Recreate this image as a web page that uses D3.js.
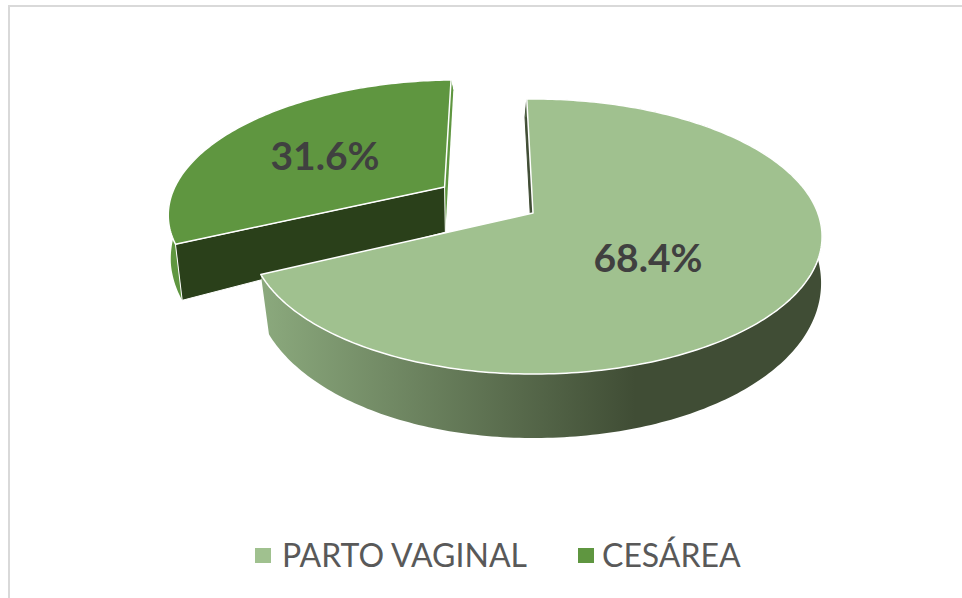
<!DOCTYPE html>
<html>
<head>
<meta charset="utf-8">
<script src="https://d3js.org/d3.v7.min.js"></script>
<style>
html, body { margin: 0; padding: 0; background: #fff; }
svg { display: block; }
</style>
</head>
<body>
<svg id="chart" width="962" height="598"></svg>
<script>
const categories = ["PARTO VAGINAL", "CESÁREA"];
const values = [68.4, 31.6];

const width = 962, height = 598;
const topColors = ["#a0c18f", "#5f9640"];
const explode = [0, 0.385];
const firstAngle = -1.5 * Math.PI / 180;

// perspective of the pie plate: apex is not the ellipse centre
const cx = 533, cy = 213;
const k = 0.171, B = 133.5;
const p = 154.9, q = 50.8, r = 0.086, r2 = 0.12;
// plate is a little narrower on the left of the apex
const topWidth = X => X < 0 ? 279 : 284.8;
const bottomWidth = X => X < 0 ? 277 : 286;

function topPoint(X, Y) {
    const w = 1 - k * Y;
    return [cx + topWidth(X) * X / w, cy + B * Y / w];
}
function bottomPoint(X, Y, lean) {
    return [cx + bottomWidth(X) * X / (1 - r2 * Y) + lean * Math.max(0, -Y), cy + (p * Y + q) / (1 - r * Y)];
}

const svg = d3.select("#chart");
const defs = svg.append("defs");
const grad = defs.append("linearGradient").attr("id", "wallGrad")
    .attr("gradientUnits", "userSpaceOnUse")
    .attr("x1", 262).attr("x2", 635).attr("y1", 0).attr("y2", 0);
grad.append("stop").attr("offset", "0%").attr("stop-color", "#8ba97d");
grad.append("stop").attr("offset", "100%").attr("stop-color", "#404d35");

// chart frame, no right side in the reference
svg.append("path").attr("fill", "none").attr("stroke", "#d9d9d9").attr("stroke-width", 2)
    .attr("d", `M${width},6H9V${height}`);

const pie = d3.pie().sort(null).startAngle(firstAngle).endAngle(firstAngle + 2 * Math.PI);
const slices = pie(values).map((s, i) => {
    const mid = (s.startAngle + s.endAngle) / 2;
    const ox = explode[i] * Math.sin(mid), oy = -explode[i] * Math.cos(mid);
    const angles = d3.range(s.startAngle, s.endAngle, Math.PI / 180).concat([s.endAngle]);
    const rim = angles.map(a => [ox + Math.sin(a), oy - Math.cos(a)]);
    return {i, ox, oy, rim};
});

const line = d3.line();
const plate = svg.append("g");

function sliceShapes(s, lean) {
    const g = plate.append("g");
    const first = s.rim[0], last = s.rim[s.rim.length - 1];
    const apex = [s.ox, s.oy];
    // side cut at the start of the slice
    const startWall = [topPoint(...apex), topPoint(...first), bottomPoint(...first, lean), bottomPoint(...apex, lean)];
    // side cut at the end of the slice
    const endWall = [topPoint(...apex), topPoint(...last), bottomPoint(...last, lean), bottomPoint(...apex, lean)];
    const outer = s.rim.map(d => topPoint(...d)).concat(s.rim.slice().reverse().map(d => bottomPoint(...d, lean)));
    return {g, startWall, endWall, outer, top: [topPoint(...apex)].concat(s.rim.map(d => topPoint(...d)))};
}

// exploded slice sits behind the big one
const ces = sliceShapes(slices[1], 5);
ces.g.append("path").attr("d", line(ces.endWall) + "Z").attr("fill", topColors[1]);
ces.g.append("path").attr("d", line(ces.outer) + "Z").attr("fill", topColors[1]);
ces.g.append("path").attr("d", line(ces.startWall) + "Z").attr("fill", "#2a401a")
    .attr("stroke", "#fff").attr("stroke-width", 1);
ces.g.append("path").attr("d", line(ces.top) + "Z").attr("fill", topColors[1])
    .attr("stroke", "#fff").attr("stroke-width", 1.5).attr("stroke-linejoin", "round");

const big = sliceShapes(slices[0], -1.5);
big.g.append("path").attr("d", line(big.startWall) + "Z").attr("fill", "#404d35")
    .attr("stroke", "#404d35").attr("stroke-width", 1);
big.g.append("path").attr("d", line(big.outer) + "Z").attr("fill", "url(#wallGrad)");
big.g.append("path").attr("d", line(big.top) + "Z").attr("fill", topColors[0])
    .attr("stroke", "#fff").attr("stroke-width", 1.5).attr("stroke-linejoin", "round");

// data labels
const labelPos = [[648, 257], [325, 155]];
svg.selectAll("text.value").data(values).enter().append("text").attr("class", "value")
    .attr("x", (d, i) => labelPos[i][0]).attr("y", (d, i) => labelPos[i][1])
    .attr("text-anchor", "middle").attr("dominant-baseline", "central")
    .attr("font-family", "Lato").attr("font-weight", 700).attr("font-size", 39)
    .attr("fill", "#404040")
    .text(d => d3.format(".1f")(d) + "%");

// legend
const legendX = [255, 578];
const legendText = [27, 24];
const legend = svg.selectAll("g.legend").data(categories).enter().append("g").attr("class", "legend")
    .attr("transform", (d, i) => `translate(${legendX[i]},548)`);
legend.append("rect").attr("width", 16).attr("height", 15).attr("fill", (d, i) => topColors[i]);
legend.append("text").attr("x", (d, i) => legendText[i]).attr("y", 19)
    .attr("font-family", "Lato").attr("font-size", 32).attr("fill", "#595959")
    .text(d => d);
</script>
</body>
</html>
